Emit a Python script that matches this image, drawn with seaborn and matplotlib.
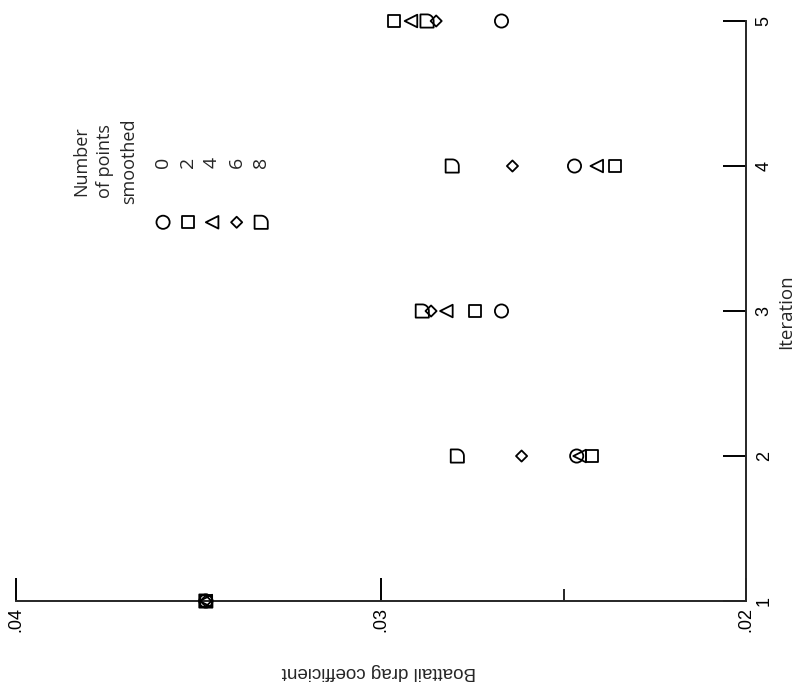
import numpy as np
import pandas as pd
import matplotlib
matplotlib.use('Agg')
import matplotlib.pyplot as plt
import seaborn as sns
from matplotlib.path import Path

# Boattail drag coefficient per iteration, one list per smoothing setting
iterations = [1, 2, 3, 4, 5]
points_smoothed = ['0', '2', '4', '6', '8']
cd_0 = [0.0348, 0.02464, 0.02670, 0.02470, 0.02670]
cd_2 = [0.0348, 0.02423, 0.02742, 0.02360, 0.02964]
cd_4 = [0.0348, 0.02456, 0.02821, 0.02409, 0.02918]
cd_6 = [0.0348, 0.02615, 0.02863, 0.02640, 0.02849]
cd_8 = [0.0348, 0.02791, 0.02887, 0.02805, 0.02874]
series = [cd_0, cd_2, cd_4, cd_6, cd_8]

xticks = [0.04, 0.03, 0.02]
xticklabels = ['.04', '.03', '.02']

sns.set_style('ticks')
plt.rcParams['font.family'] = ['Liberation Sans', 'DejaVu Sans']

# quarter-round symbol used for the 8 point case
theta = np.linspace(np.pi / 2, 0, 20)
verts = [(-0.5, -0.5), (-0.5, 0.5)] + list(zip(0.5 * np.cos(theta), 0.5 * np.sin(theta))) \
    + [(0.5, -0.5), (-0.5, -0.5)]
codes = [Path.MOVETO] + [Path.LINETO] * (len(verts) - 2) + [Path.CLOSEPOLY]
quarter = Path(verts, codes)

markers = ['o', 's', '<', 'D', quarter]
sizes = [90, 76, 82, 32, 90]
lw = 1.3

fig = plt.figure(figsize=(7.98, 6.91), dpi=100)
ax = fig.add_axes([0.0201, 0.1302, 0.9148, 0.8394])

for cd, lab, m, s in zip(series, points_smoothed, markers, sizes):
    df = pd.DataFrame({'cd': cd, 'iteration': iterations})
    sns.scatterplot(data=df, x='cd', y='iteration', marker=m, s=s,
                    facecolor='none', edgecolor='black', linewidth=lw,
                    ax=ax, clip_on=False, zorder=3)

ax.set_xlim(0.04, 0.02)
ax.set_ylim(1, 5)
ax.spines[['top', 'left']].set_visible(False)
for sp in ['bottom', 'right']:
    ax.spines[sp].set_linewidth(1.4)
ax.yaxis.tick_right()
ax.yaxis.set_label_position('right')

ax.set_xticks(xticks)
ax.set_xticklabels(xticklabels, rotation=90)
ax.set_xticks([0.025], minor=True)
ax.set_yticks(iterations)
ax.set_yticklabels([str(i) for i in iterations], rotation=90, va='center')
ax.tick_params(axis='both', which='major', direction='in', length=16.5, width=1.4,
               colors='black', labelsize=13)
ax.tick_params(axis='x', which='minor', direction='in', length=8.6, width=1.4)
ax.tick_params(axis='x', pad=4)
ax.tick_params(axis='y', pad=7)

ax.set_xlabel('Boattail drag coefficient', rotation=180, fontsize=13.5)
ax.xaxis.set_label_coords(0.497, -0.122)
ax.xaxis.label.set_va('center')
ax.set_ylabel('Iteration', rotation=90, fontsize=13.5, family=['Open Sans', 'DejaVu Sans'])
ax.yaxis.set_label_coords(1.055, 0.498)
ax.yaxis.label.set_va('center')
ax.yaxis.label.set_ha('center')

# legend drawn sideways like the scanned figure
leg_x0, leg_dx = 0.2014, 0.0336
for i, (lab, m, s) in enumerate(zip(points_smoothed, markers, sizes)):
    ax.scatter(leg_x0 + i * leg_dx, 0.653, transform=ax.transAxes, marker=m, s=s,
               facecolor='none', edgecolor='black', linewidth=lw, clip_on=False)
    ax.text(leg_x0 + i * leg_dx, 0.757, lab, transform=ax.transAxes, rotation=90,
            ha='center', va='center', fontsize=14, family=['Open Sans', 'DejaVu Sans'])
ax.text(0.122, 0.759, 'Number\nof points\nsmoothed', transform=ax.transAxes, rotation=90,
        ha='center', va='center', multialignment='center', fontsize=13,
        linespacing=1.45, family=['Open Sans', 'DejaVu Sans'])

fig.savefig('out.png', dpi=100, facecolor='white')
